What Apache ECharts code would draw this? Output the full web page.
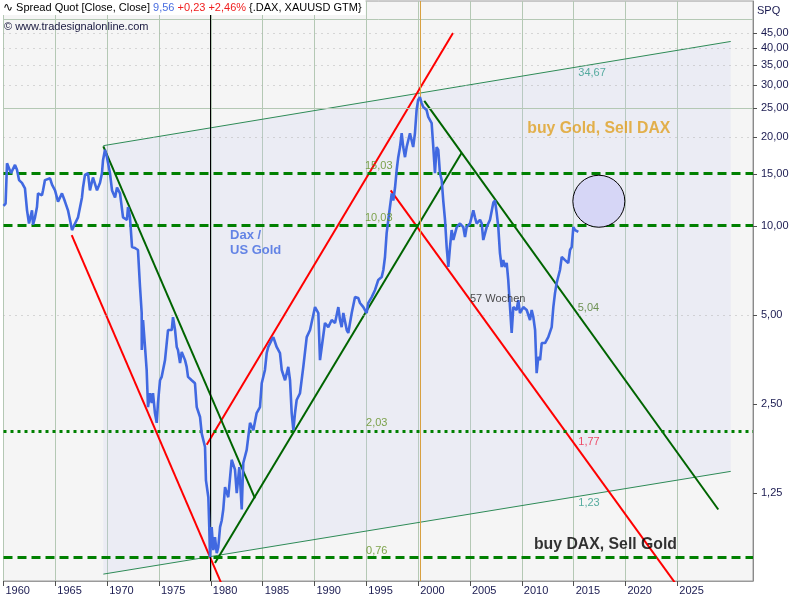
<!DOCTYPE html>
<html><head><meta charset="utf-8">
<script src="https://cdn.jsdelivr.net/npm/echarts@6/dist/echarts.min.js"></script>
<style>html,body{margin:0;padding:0;background:#fff}#c{width:800px;height:600px}</style>
</head><body><div id="c"></div>
<script>
// ---- price series: DAX / US Gold spread (year, ratio) ----
const priceYears = [1960.00,1960.20,1960.34,1960.72,1961.11,1961.30,1961.50,1961.78,1962.07,1962.27,1962.46,1962.75,1962.85,1963.04,1963.23,1963.33,1963.71,1963.81,1964.00,1964.49,1964.68,1964.97,1965.26,1965.64,1965.93,1966.22,1966.41,1966.61,1966.90,1967.19,1967.57,1967.67,1967.86,1968.15,1968.34,1968.63,1969.02,1969.31,1969.50,1969.60,1969.79,1969.98,1970.27,1970.47,1970.76,1970.95,1971.24,1971.53,1971.91,1972.01,1972.20,1972.40,1972.68,1972.97,1973.17,1973.33,1973.34,1973.46,1973.65,1973.81,1973.94,1974.13,1974.30,1974.42,1974.61,1974.78,1974.90,1975.10,1975.26,1975.58,1975.87,1976.23,1976.35,1976.55,1976.71,1976.83,1977.03,1977.19,1977.51,1977.67,1977.80,1978.15,1978.47,1978.64,1978.96,1979.12,1979.44,1979.53,1979.76,1979.85,1979.92,1980.08,1980.24,1980.40,1980.57,1980.72,1980.89,1981.05,1981.20,1981.37,1981.68,1982.01,1982.33,1982.50,1982.75,1982.98,1983.13,1983.46,1983.78,1984.10,1984.42,1984.74,1984.91,1985.22,1985.39,1985.54,1985.87,1986.03,1986.35,1986.67,1986.84,1987.16,1987.47,1987.64,1987.80,1987.96,1988.12,1988.28,1988.60,1988.92,1989.25,1989.57,1990.05,1990.37,1990.53,1990.70,1991.01,1991.33,1991.66,1991.98,1992.30,1992.46,1992.62,1992.78,1993.11,1993.26,1993.59,1993.91,1994.22,1994.39,1994.71,1995.03,1995.18,1995.52,1995.84,1996.15,1996.48,1996.64,1996.80,1996.96,1997.12,1997.28,1997.45,1997.60,1997.77,1997.93,1998.08,1998.25,1998.41,1998.56,1998.73,1998.89,1999.21,1999.52,1999.69,1999.85,2000.00,2000.17,2000.33,2000.48,2000.81,2000.97,2001.30,2001.46,2001.62,2001.78,2001.94,2002.10,2002.27,2002.42,2002.59,2002.75,2002.91,2003.07,2003.23,2003.39,2003.72,2004.04,2004.35,2004.52,2004.68,2005.00,2005.32,2005.48,2005.64,2005.97,2006.13,2006.28,2006.61,2006.93,2007.25,2007.41,2007.57,2007.73,2007.89,2008.06,2008.21,2008.38,2008.54,2008.69,2008.86,2009.02,2009.18,2009.50,2009.66,2009.82,2010.14,2010.47,2010.79,2010.95,2011.11,2011.28,2011.43,2011.59,2011.76,2011.92,2012.24,2012.55,2012.88,2013.04,2013.20,2013.36,2013.68,2013.85,2014.17,2014.48,2014.65,2014.81,2014.97,2015.14,2015.45];
const priceValues = [11.7,11.9,16.3,15.1,16.1,15.5,14.3,14.0,13.4,11.3,10.2,11.3,10.1,10.7,11.6,12.9,12.7,13.2,14.3,14.5,13.8,13.2,12.1,12.9,12.1,11.3,10.5,9.69,10.2,10.7,12.5,13.5,14.9,15.1,13.2,14.6,13.2,14.0,15.1,16.7,18.1,17.1,15.1,13.2,12.5,13.5,12.9,10.7,10.5,11.6,10.7,8.49,8.43,8.30,6.22,5.08,3.81,4.81,3.90,3.26,2.44,2.72,2.52,2.72,2.33,2.16,2.52,3.01,3.09,3.52,4.45,4.45,4.92,4.45,3.90,3.81,3.44,3.75,3.52,3.34,3.09,3.01,2.94,2.44,2.26,1.99,1.79,1.38,1.21,0.959,0.759,0.959,0.802,0.887,0.783,0.821,0.959,1.01,1.10,1.31,1.21,1.62,1.50,1.25,1.53,1.10,1.58,1.75,2.16,2.04,2.33,2.44,2.94,3.26,3.72,3.90,4.12,4.21,3.90,3.72,3.26,3.01,3.34,3.01,2.33,2.04,2.33,2.58,2.72,3.34,4.21,4.45,5.32,5.08,3.52,3.90,4.70,4.55,4.81,4.70,5.32,4.81,4.55,5.08,4.45,4.35,5.08,5.75,5.71,5.49,5.32,5.08,5.49,5.75,6.08,6.57,6.72,7.10,7.86,9.47,10.5,11.6,12.9,12.2,13.5,15.5,17.1,18.5,20.6,18.5,17.1,18.5,20.6,18.5,20.6,24.7,26.7,27.3,26.1,25.3,24.7,23.4,22.3,18.5,15.1,18.5,18.1,15.1,14.3,12.2,10.5,8.49,7.27,8.49,9.69,8.97,9.92,10.2,9.92,9.18,9.92,10.2,11.3,10.7,10.2,10.5,10.2,8.97,9.92,10.5,12.0,12.2,11.1,9.92,8.10,7.27,7.67,7.27,7.50,6.57,5.32,4.35,5.32,5.20,5.62,5.08,5.32,5.20,4.81,5.20,4.92,4.45,3.18,3.61,3.52,4.02,4.02,4.21,4.55,5.32,5.93,6.42,7.10,7.86,7.67,7.50,8.30,8.49,9.92,9.69,9.56];

// ---- trend lines: [startYear, endYear] / [startValue, endValue] ----
const redLineYears  = [[1966.58,1981.08],[1979.60,2003.36],[1997.35,2024.80]];
const redLineValues = [[9.32,0.611],[1.82,45.0],[13.2,0.620]];
const greenLineYears  = [[1969.63,1984.26],[1980.40,2004.20],[2000.59,2028.95]];
const greenLineValues = [[18.6,1.20],[0.725,17.7],[26.5,1.10]];
const channelYears  = [[1969.63,2030.15],[1969.63,2030.15]];
const channelValues = [[18.7,42.1],[0.665,1.48]];

// ---- horizontal levels ----
const levelValues = [15.03, 10.03, 2.03, 0.76];

// ---- axis ticks / grid ----
const xTickYears = [1960,1965,1970,1975,1980,1985,1990,1995,2000,2005,2010,2015,2020,2025];
const yTickValues = [1.25,2.5,5,10,15,20,25,30,35,40,45];
const minorGridValues = [5,20,30,35,40,45];
const majorGridValues = [25,50];
const markerYears = [1979.9, 2000.2];

// ---- annotations ----
const annotationTexts  = ['15,03','10,03','2,03','0,76','34,67','5,04','1,77','1,23','57 Wochen','Dax /\nUS Gold','buy Gold, Sell DAX','buy DAX, Sell Gold'];
const annotationYears  = [1994.87,1994.87,1994.97,1994.97,2015.45,2015.39,2015.45,2015.45,2005.0,1981.85,2010.53,2011.17];
const annotationValues = [15.96,10.64,2.15,0.796,32.9,5.30,1.86,1.156,5.66,8.76,21.4,0.834];

// ---- target circle ----
const circleYear = 2017.43;
const circleValue = 12.13;

// ================= build =================
const FONT = 'Liberation Sans';
const zip = (a, b) => a.map((v, i) => [v, b[i]]);

const annStyles = [
  {color:'#5f8f1f'},{color:'#5f8f1f'},{color:'#5f8f1f'},{color:'#5f8f1f'},
  {color:'#2f9a8a'},{color:'#4d7a2a'},{color:'#ee2244'},{color:'#2f9a8a'},
  {color:'#202020'},
  {color:'#4169e1', fontWeight:'bold', fontSize:13, lineHeight:15},
  {color:'#e0a020', fontWeight:'bold', fontSize:15.8},
  {color:'#000000', fontWeight:'bold', fontSize:15.8}
];

function segSeries(yearsArr, valsArr, color, width, z) {
  return yearsArr.map((ys, i) => ({
    type: 'line', z: z, silent: true, symbol: 'none',
    data: [[ys[0], valsArr[i][0]], [ys[1], valsArr[i][1]]],
    lineStyle: {color: color, width: width}
  }));
}

const levelStyles = [
  {color:'#008000', width:3, type:[9,5]},
  {color:'#008000', width:3, type:[9,5]},
  {color:'#008000', width:3, type:[3,4]},
  {color:'#008000', width:3, type:[9,5]}
];

const series = [
  {
    type: 'custom', z: 1, silent: true, clip: true,
    data: [[1970, 1]],
    renderItem: function (params, api) {
      const pts = [
        api.coord([channelYears[0][0], channelValues[0][0]]),
        api.coord([channelYears[0][1], channelValues[0][1]]),
        api.coord([channelYears[1][1], channelValues[1][1]]),
        api.coord([channelYears[1][0], channelValues[1][0]])
      ];
      return {type: 'polygon', shape: {points: pts}, style: {fill: 'rgba(200,205,240,0.22)'}};
    }
  },
  {
    type: 'line', z: 2, silent: true, symbol: 'none', data: [],
    markLine: {
      silent: true, symbol: ['none','none'], label: {show: false}, animation: false,
      data: [].concat(
        minorGridValues.map(v => ({yAxis: v, lineStyle: {color:'#b4b4b4', width:1, type:[1,5]}})),
        majorGridValues.map(v => ({yAxis: v, lineStyle: {color:'#b4c8b4', width:1, type:'solid'}})),
        [{xAxis: markerYears[0], lineStyle: {color:'#000000', width:1, type:'solid'}},
         {xAxis: markerYears[1], lineStyle: {color:'#d8a040', width:1, type:'solid'}}]
      )
    }
  },
  {
    type: 'line', z: 3, silent: true, symbol: 'none', data: [],
    markLine: {
      silent: true, symbol: ['none','none'], label: {show: false}, animation: false,
      data: levelValues.map((v, i) => ({yAxis: v, lineStyle: levelStyles[i]}))
    }
  }
].concat(
  segSeries(channelYears, channelValues, '#2e8b57', 1, 4),
  segSeries(redLineYears, redLineValues, '#ff0000', 2, 4),
  segSeries(greenLineYears, greenLineValues, '#006400', 2, 4),
  [{
    type: 'line', z: 5, silent: true, symbol: 'none',
    data: zip(priceYears, priceValues),
    lineStyle: {color: '#4169e1', width: 2.6}
  },
  {
    type: 'scatter', z: 6, silent: true,
    data: [[circleYear, circleValue]],
    symbol: 'circle', symbolSize: 52,
    itemStyle: {color: '#d6d6f6', borderColor: '#000000', borderWidth: 1, opacity: 1}
  },
  {
    type: 'scatter', z: 7, silent: true, symbolSize: 0,
    data: annotationTexts.map((t, i) => ({
      value: [annotationYears[i], annotationValues[i]],
      label: Object.assign({
        show: true, formatter: t, position: [0, 0], align: 'left', verticalAlign: 'middle',
        fontFamily: FONT, fontSize: 11
      }, annStyles[i])
    }))
  }]
);

const option = {
  animation: false,
  backgroundColor: '#ffffff',
  title: [
    {
      left: 0, top: 0, padding: [2, 4, 1, 3], backgroundColor: '#ffffff',
      text: '{i|∿} Spread Quot [Close, Close] {b|9,56} {r|+0,23 +2,46%} {.DAX, XAUUSD GTM}',
      textStyle: {
        fontFamily: FONT, fontSize: 11, fontWeight: 'normal', color: '#000000',
        rich: {
          i: {fontFamily: 'DejaVu Sans', fontSize: 12, color: '#000000'},
          b: {fontFamily: FONT, fontSize: 11, color: '#4a6ee0'},
          r: {fontFamily: FONT, fontSize: 11, color: '#f02020'}
        }
      }
    },
    {
      left: 4, top: 21, padding: 0,
      text: '© www.tradesignalonline.com',
      textStyle: {fontFamily: FONT, fontSize: 11, fontWeight: 'normal', color: '#1a1a40'}
    }
  ],
  graphic: [{
    type: 'text', left: 757, top: 5,
    style: {text: 'SPQ', fontFamily: FONT, fontSize: 11, fill: '#1a1a50'}
  }],
  grid: {
    left: 3.5, right: 47, top: 1, bottom: 19,
    show: true, backgroundColor: '#f5f5f5', borderColor: '#9a9a9a', borderWidth: 1,
    outerBoundsMode: 'none', containLabel: false
  },
  xAxis: {
    type: 'value', min: 1960, max: 2032.3, interval: 5,
    axisLine: {show: true, lineStyle: {color: '#9a9a9a'}},
    axisTick: {show: true, customValues: xTickYears, length: 5, lineStyle: {color: '#505050'}},
    axisLabel: {
      customValues: xTickYears, align: 'left', margin: 4, padding: [0, 0, 0, 2],
      fontFamily: FONT, fontSize: 11, color: '#1a1a50',
      formatter: v => String(Math.round(v))
    },
    splitLine: {show: true, lineStyle: {color: '#b4c8b4', width: 1}}
  },
  yAxis: {
    type: 'log', logBase: 2, min: 0.6303, max: 57.69, position: 'right',
    axisLine: {show: true, lineStyle: {color: '#8a8a8a'}},
    axisTick: {show: true, customValues: yTickValues, length: 4, lineStyle: {color: '#505050'}},
    axisLabel: {
      customValues: yTickValues, margin: 8,
      fontFamily: FONT, fontSize: 11, color: '#1a1a50',
      formatter: v => Number(v).toFixed(2).replace('.', ',')
    },
    splitLine: {show: false},
    minorTick: {show: false}
  },
  series: series
};

const chart = echarts.init(document.getElementById('c'), null, {renderer: 'canvas'});
chart.setOption(option);
</script>
</body></html>
